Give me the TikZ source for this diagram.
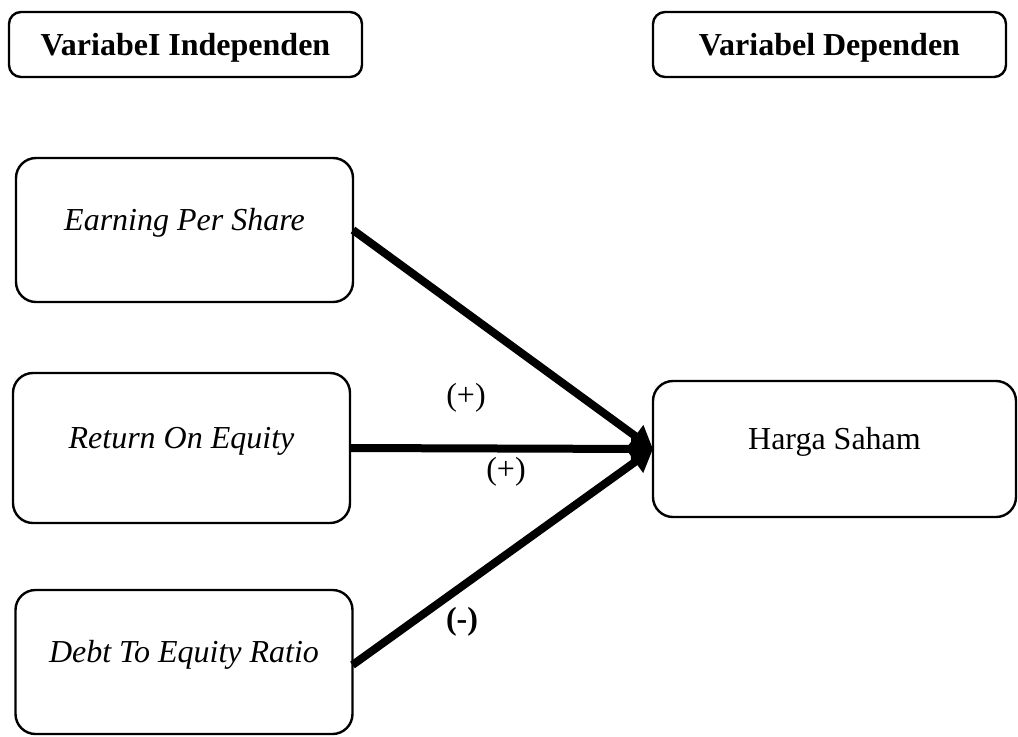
\documentclass[tikz,border=0pt]{standalone}
\usepackage{fontspec}
\setmainfont{Liberation Serif}
\usetikzlibrary{arrows.meta}
\newcommand{\textind}{VariabeI Independen}
\newcommand{\textdep}{Variabel Dependen}
\newcommand{\sz}[1]{\fontsize{16}{19}\selectfont #1}

\begin{document}
\begin{tikzpicture}[x=0.5pt,y=-0.5pt,
    any/.style={draw,line width=1.2pt,rounded corners=10pt,%
                 inner sep=0pt,outer sep=0pt,align=center},
    header/.style={any,minimum width=176.5pt,minimum height=32.5pt,%
                 rounded corners=6pt,text height=14pt,text depth=3.5pt,font=\bfseries},
    var/.style={any,minimum width=168.5pt,minimum height=72pt,%
                 text height=11pt,text depth=11pt,font=\itshape},
    effect/.style={line width=4pt,-{Triangle[length=11pt,width=13pt]}},
    sign/.style={inner sep=0pt}
]
\useasboundingbox (0,0) rectangle (1018,736);

\node[header] (ind) at (185.5,44.5) {\sz{\textind}};
\node[header] (dep) at (829.5,44.5) {\sz{\textdep}};

\node[var] (eps) at (184.5,230) {\sz{Earning Per Share}};
\node[var,minimum height=75pt] (roe) at (181.5,448) {\sz{Return On Equity}};
\node[var] (der) at (184,662) {\sz{Debt To Equity Ratio}};
\node[var,minimum width=181.5pt,minimum height=68pt,font=\upshape] (harga) at (834.5,449) {\sz{Harga Saham}};

\draw[effect] (eps.east) -- (harga.west);
\draw[effect] (roe.east) -- (harga.west);
\draw[effect] ([yshift=-1.5pt]der.east) -- (harga.west);

\node[sign] (s1) at (466,398) {\sz{(+)}};
\node[sign] (s2) at (506,472) {\sz{(+)}};
\node[sign] (s3) at (462,622) {\sz{\textbf{(-)}}};

\end{tikzpicture}
\end{document}
